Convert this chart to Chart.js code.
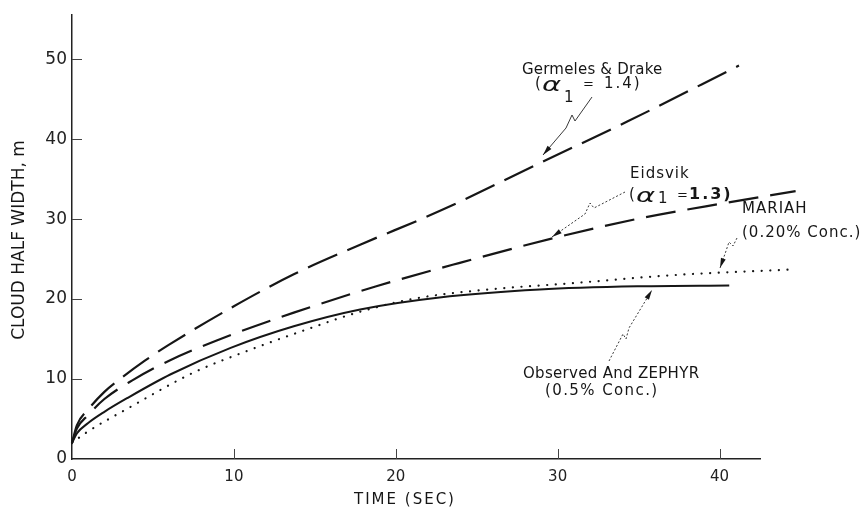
<!DOCTYPE html>
<html>
<head>
<meta charset="utf-8">
<script src="https://cdn.jsdelivr.net/npm/chart.js@4.4.1/dist/chart.umd.min.js"></script>
<style>
	html, body { margin: 0; padding: 0; background: #fff; }
	#chart { display: block; }
</style>
</head>
<body>
<canvas id="chart" width="865" height="514"></canvas>
<script>
// values (time in s, half width in m)
var germelesTime  = [0, 0.3, 1.0, 2.0, 2.9, 4.5, 6.0, 10.0, 13.7, 17.8, 22.7, 29.1, 34.3, 41.2];
var germelesWidth = [2, 4.2, 6.2, 8.4, 9.9, 12.3, 14.3, 19.1, 23.1, 26.8, 31.0, 37.2, 42.2, 49.2];

var eidsvikTime  = [0, 0.3, 1.0, 2.0, 3.7, 6.0, 8.9, 13.7, 18.8, 23.9, 29.7, 35.1, 40.3, 44.7];
var eidsvikWidth = [2, 3.8, 5.5, 7.5, 9.8, 12.3, 14.8, 18.3, 21.6, 24.5, 27.6, 30.1, 32.0, 33.5];

var observedTime  = [0, 0.3, 1.0, 2.0, 3.4, 6.1, 9.8, 13.7, 17.8, 22.7, 28.9, 35.1, 40.6];
var observedWidth = [2, 3.2, 4.5, 5.9, 7.6, 10.6, 13.9, 16.6, 18.7, 20.2, 21.2, 21.6, 21.7];

var mariahTime  = [0, 0.8, 3.6, 7.5, 10.8, 14.5, 17.6, 21.0, 25.2, 31.0, 37.2, 44.5];
var mariahWidth = [2, 3.2, 6.5, 10.8, 13.5, 16.2, 18.3, 20.0, 21.1, 22.0, 23.0, 23.7];

var xTicks = [0, 10, 20, 30, 40];
var yTicks = [0, 10, 20, 30, 40, 50];

function pts(t, v) {
	return t.map(function (x, i) { return {x: x, y: v[i]}; });
}

var ink = '#161616';

function txt(ctx, s, x, y, font, spacing) {
	ctx.font = font;
	ctx.letterSpacing = (spacing || 0) + 'px';
	ctx.fillText(s, x, y);
	ctx.letterSpacing = '0px';
}

function leader(ctx, p, dashed) {
	ctx.save();
	ctx.strokeStyle = '#3a3a3a';
	ctx.lineWidth = 1;
	if (dashed) ctx.setLineDash([2, 2]);
	ctx.beginPath();
	ctx.moveTo(p[0][0], p[0][1]);
	for (var i = 1; i < p.length; i++) ctx.lineTo(p[i][0], p[i][1]);
	ctx.stroke();
	// arrow head at the last point
	var a = p[p.length - 2], b = p[p.length - 1];
	var ang = Math.atan2(b[1] - a[1], b[0] - a[0]);
	ctx.setLineDash([]);
	ctx.fillStyle = ink;
	ctx.beginPath();
	ctx.moveTo(b[0], b[1]);
	ctx.lineTo(b[0] - 10 * Math.cos(ang) + 2.5 * Math.sin(ang), b[1] - 10 * Math.sin(ang) - 2.5 * Math.cos(ang));
	ctx.lineTo(b[0] - 10 * Math.cos(ang) - 2.5 * Math.sin(ang), b[1] - 10 * Math.sin(ang) + 2.5 * Math.cos(ang));
	ctx.closePath();
	ctx.fill();
	ctx.restore();
}

// (α1 = n) label; subDy = how far the subscript sits below the base line
function alphaLabel(ctx, x, base, subDy, num, bold, numX) {
	ctx.fillStyle = ink;
	ctx.textBaseline = 'alphabetic';
	ctx.textAlign = 'left';
	txt(ctx, '(', x, base, '15px "DejaVu Sans"');
	ctx.save();
	ctx.translate(x + 7, base + 3);
	ctx.scale(1.45, 1);
	txt(ctx, 'α', 0, 0, 'italic 20px "DejaVu Sans"');
	ctx.restore();
	txt(ctx, '1', x + 29, base + subDy, '15px "DejaVu Sans"');
	txt(ctx, '=', x + 48, base, '13px "DejaVu Sans"');
	txt(ctx, num + ')', numX, base, (bold ? 'bold 16px' : '15px') + ' "DejaVu Sans"', 2);
}

var annotate = {
	id: 'annotate',
	beforeDraw: function (chart) {
		var ctx = chart.ctx;
		ctx.save();
		ctx.fillStyle = '#fff';
		ctx.fillRect(0, 0, chart.width, chart.height);
		ctx.restore();
	},
	afterDraw: function (chart) {
		var ctx = chart.ctx;
		var xs = chart.scales.x, ys = chart.scales.y;
		var area = chart.chartArea;
		ctx.save();
		// inward tick marks
		ctx.strokeStyle = '#444';
		ctx.lineWidth = 1;
		ctx.beginPath();
		yTicks.forEach(function (v) {
			if (v === 0) return;
			var py = Math.round(ys.getPixelForValue(v)) + 0.5;
			ctx.moveTo(area.left, py);
			ctx.lineTo(area.left + 10, py);
		});
		xTicks.forEach(function (v) {
			if (v === 0) return;
			var px = Math.round(xs.getPixelForValue(v)) + 0.5;
			ctx.moveTo(px, area.bottom);
			ctx.lineTo(px, area.bottom - 10);
		});
		ctx.stroke();

		// axis titles
		ctx.fillStyle = ink;
		ctx.textAlign = 'center';
		ctx.textBaseline = 'middle';
		txt(ctx, 'TIME (SEC)', 405, 500, '15px "DejaVu Sans"', 2);
		ctx.save();
		ctx.translate(20, 240);
		ctx.rotate(-Math.PI / 2);
		txt(ctx, 'CLOUD HALF WIDTH, m', 0, 0, '17px "DejaVu Sans"');
		ctx.restore();

		// curve labels
		ctx.textAlign = 'left';
		ctx.textBaseline = 'alphabetic';
		txt(ctx, 'Germeles & Drake', 522, 74, '15px "DejaVu Sans"', 0.2);
		alphaLabel(ctx, 535, 88, 14, '1.4', false, 604);
		txt(ctx, 'Eidsvik', 630, 178, '15px "DejaVu Sans"', 1);
		alphaLabel(ctx, 629, 199, 4, '1.3', true, 689);
		txt(ctx, 'MARIAH', 742, 213, '15px "DejaVu Sans"', 1);
		txt(ctx, '(0.20% Conc.)', 742, 237, '15px "DejaVu Sans"', 1);
		txt(ctx, 'Observed And ZEPHYR', 523, 378, '15px "DejaVu Sans"', 0.3);
		txt(ctx, '(0.5% Conc.)', 545, 395, '15px "DejaVu Sans"', 1.4);

		// leader lines with arrows
		leader(ctx, [[592, 97], [575, 121], [572, 115], [566, 128], [543, 155]], false);
		leader(ctx, [[625, 192], [594, 208], [590, 203], [585, 214], [552, 237]], true);
		leader(ctx, [[737, 238], [733, 246], [729, 242], [726, 251], [720, 268]], true);
		leader(ctx, [[609, 361], [623, 334], [626, 339], [629, 328], [652, 290]], true);
		ctx.restore();
	}
};

var common = {
	fill: false,
	pointRadius: 0,
	borderColor: ink,
	clip: false,
	cubicInterpolationMode: 'monotone'
};

new Chart(document.getElementById('chart'), {
	type: 'line',
	data: {
		datasets: [
			Object.assign({label: 'Germeles & Drake', data: pts(germelesTime, germelesWidth),
				borderWidth: 2.2, borderDash: [32, 11]}, common),
			Object.assign({label: 'Eidsvik', data: pts(eidsvikTime, eidsvikWidth),
				borderWidth: 2.2, borderDash: [30, 12]}, common),
			Object.assign({label: 'Observed And ZEPHYR', data: pts(observedTime, observedWidth),
				borderWidth: 2}, common),
			Object.assign({label: 'MARIAH', data: pts(mariahTime, mariahWidth),
				borderWidth: 2.2, borderDash: [0.1, 8.5], borderCapStyle: 'round'}, common)
		]
	},
	options: {
		responsive: false,
		animation: false,
		devicePixelRatio: 1,
		layout: {padding: {top: 13, right: 105, left: 0, bottom: 0}},
		plugins: {legend: {display: false}, tooltip: {enabled: false}},
		scales: {
			x: {
				type: 'linear',
				min: 0,
				max: 42.5,
				afterBuildTicks: function (s) {
					s.ticks = xTicks.map(function (v) { return {value: v}; });
				},
				afterFit: function (s) { s.height = 55; },
				ticks: {color: '#222', padding: 9, maxRotation: 0, font: {family: 'DejaVu Sans', size: 15}},
				grid: {display: true, drawOnChartArea: false, drawTicks: false},
				border: {display: true, color: '#222', width: 1.5}
			},
			y: {
				min: 0,
				max: 55.5,
				afterBuildTicks: function (s) {
					s.ticks = yTicks.map(function (v) { return {value: v}; });
				},
				afterFit: function (s) { s.width = 72; },
				ticks: {color: '#222', padding: 5, font: {family: 'DejaVu Sans', size: 17}},
				grid: {display: true, drawOnChartArea: false, drawTicks: false},
				border: {display: true, color: '#222', width: 1.5}
			}
		}
	},
	plugins: [annotate]
});
</script>
</body>
</html>
